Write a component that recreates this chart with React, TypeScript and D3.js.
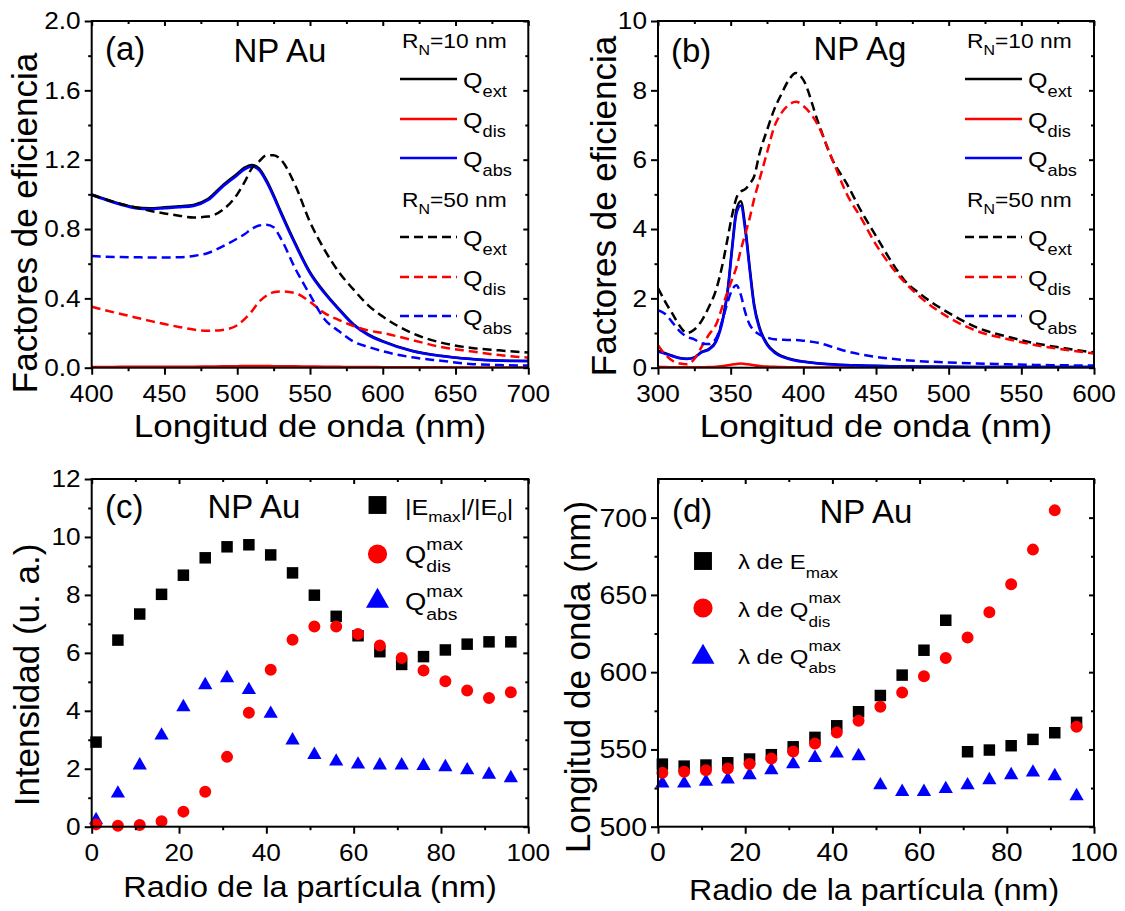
import React, { useEffect, useRef } from 'react';
import * as d3 from 'd3';

// ---------- (a) NP Au: eficiencias vs longitud de onda ----------
const lambdaAu = [400, 410, 420, 430, 440, 450, 460, 470, 480, 490, 500, 505, 510, 515, 520, 525, 530, 540, 550, 560, 570, 580, 590, 600, 620, 640, 660, 680, 700];
const auExt10 = [1.0, 0.971, 0.945, 0.925, 0.92, 0.925, 0.931, 0.939, 0.974, 1.052, 1.119, 1.154, 1.17, 1.15, 1.083, 0.996, 0.899, 0.716, 0.551, 0.435, 0.338, 0.25, 0.192, 0.153, 0.098, 0.069, 0.051, 0.041, 0.039];
const auDis10 = [0.004, 0.004, 0.005, 0.005, 0.005, 0.005, 0.006, 0.006, 0.007, 0.008, 0.009, 0.01, 0.01, 0.01, 0.01, 0.009, 0.009, 0.008, 0.007, 0.006, 0.005, 0.004, 0.004, 0.003, 0.002, 0.002, 0.001, 0.001, 0.001];
const auAbs10 = [0.996, 0.967, 0.94, 0.92, 0.915, 0.92, 0.925, 0.933, 0.967, 1.044, 1.11, 1.144, 1.16, 1.14, 1.073, 0.987, 0.89, 0.708, 0.544, 0.429, 0.333, 0.246, 0.188, 0.15, 0.096, 0.067, 0.05, 0.04, 0.038];
const auExt50 = [0.996, 0.97, 0.945, 0.925, 0.905, 0.89, 0.877, 0.867, 0.872, 0.91, 1.0, 1.07, 1.15, 1.19, 1.225, 1.225, 1.2, 1.05, 0.84, 0.68, 0.55, 0.45, 0.36, 0.295, 0.2, 0.145, 0.115, 0.1, 0.087];
const auDis50 = [0.352, 0.33, 0.31, 0.29, 0.27, 0.252, 0.235, 0.22, 0.213, 0.218, 0.245, 0.28, 0.325, 0.38, 0.415, 0.435, 0.44, 0.43, 0.38, 0.315, 0.275, 0.24, 0.215, 0.2, 0.16, 0.12, 0.095, 0.073, 0.058];
const auAbs50 = [0.644, 0.64, 0.638, 0.637, 0.636, 0.636, 0.637, 0.645, 0.662, 0.7, 0.745, 0.77, 0.8, 0.82, 0.825, 0.81, 0.745, 0.57, 0.42, 0.28, 0.21, 0.15, 0.12, 0.095, 0.06, 0.04, 0.022, 0.015, 0.012];

// ---------- (b) NP Ag ----------
const lambdaAg = [300, 305, 310, 315, 320, 325, 330, 335, 340, 345, 348, 351, 354, 357, 360, 363, 366, 370, 375, 380, 385, 390, 395, 400, 410, 420, 430, 440, 450, 460, 470, 480, 500, 520, 540, 560, 580, 600];
const agExt10 = [0.49, 0.42, 0.345, 0.28, 0.26, 0.3, 0.455, 0.54, 0.78, 1.5, 2.27, 3.49, 4.56, 4.8, 4.08, 2.94, 1.87, 1.15, 0.695, 0.465, 0.34, 0.265, 0.212, 0.18, 0.128, 0.096, 0.075, 0.064, 0.053, 0.043, 0.037, 0.032, 0.026, 0.021, 0.021, 0.021, 0.021, 0.021];
const agDis10 = [0.03, 0.02, 0.015, 0.01, 0.01, 0.01, 0.015, 0.02, 0.03, 0.05, 0.07, 0.09, 0.11, 0.12, 0.11, 0.09, 0.07, 0.05, 0.035, 0.025, 0.02, 0.015, 0.012, 0.01, 0.008, 0.006, 0.005, 0.004, 0.003, 0.003, 0.002, 0.002, 0.001, 0.001, 0.001, 0.001, 0.001, 0.001];
const agAbs10 = [0.46, 0.4, 0.33, 0.27, 0.25, 0.29, 0.44, 0.52, 0.75, 1.45, 2.2, 3.4, 4.45, 4.68, 3.97, 2.85, 1.8, 1.1, 0.66, 0.44, 0.32, 0.25, 0.2, 0.17, 0.12, 0.09, 0.07, 0.06, 0.05, 0.04, 0.035, 0.03, 0.025, 0.02, 0.02, 0.02, 0.02, 0.02];
const agExt50 = [2.3, 1.9, 1.55, 1.2, 1.0, 1.1, 1.35, 1.75, 2.25, 3.1, 3.75, 4.4, 4.9, 5.08, 5.15, 5.3, 5.5, 6.2, 6.85, 7.45, 7.9, 8.3, 8.5, 8.3, 7.1, 6.0, 5.3, 4.5, 3.8, 3.1, 2.5, 2.14, 1.58, 1.15, 0.9, 0.7, 0.56, 0.44];
const agDis50 = [0.65, 0.38, 0.2, 0.12, 0.1, 0.25, 0.6, 0.95, 1.25, 1.85, 2.2, 2.55, 2.9, 3.4, 3.85, 4.3, 4.84, 5.45, 6.2, 6.95, 7.35, 7.58, 7.67, 7.55, 7.0, 6.0, 5.0, 4.3, 3.55, 2.95, 2.45, 2.05, 1.45, 1.05, 0.83, 0.65, 0.52, 0.41];
const agAbs50 = [1.66, 1.55, 1.3, 1.05, 0.89, 0.82, 0.7, 0.68, 0.85, 1.47, 1.9, 2.25, 2.38, 2.1, 1.6, 1.25, 1.08, 0.95, 0.87, 0.82, 0.81, 0.8, 0.8, 0.78, 0.72, 0.6, 0.47, 0.38, 0.31, 0.26, 0.22, 0.19, 0.15, 0.12, 0.1, 0.08, 0.07, 0.06];

// ---------- (c), (d) NP Au vs radio ----------
const radio = [1, 6, 11, 16, 21, 26, 31, 36, 41, 46, 51, 56, 61, 66, 71, 76, 81, 86, 91, 96];
const eRatio = [2.92, 6.44, 7.34, 8.02, 8.68, 9.28, 9.66, 9.73, 9.38, 8.76, 7.99, 7.26, 6.59, 6.04, 5.6, 5.87, 6.1, 6.3, 6.38, 6.38];
const qDisMax = [0.08, 0.03, 0.06, 0.19, 0.52, 1.21, 2.41, 3.93, 5.42, 6.45, 6.91, 6.91, 6.65, 6.25, 5.82, 5.39, 5.02, 4.7, 4.44, 4.64];
const qAbsMax = [0.23, 1.15, 2.12, 3.15, 4.13, 4.89, 5.13, 4.72, 3.9, 2.98, 2.48, 2.25, 2.15, 2.12, 2.12, 2.1, 2.06, 1.95, 1.8, 1.68];
const lamEmax = [540.5, 539.2, 539.9, 541.4, 543.8, 546.6, 551.7, 557.8, 565.3, 574.4, 584.9, 598.1, 614.2, 633.6, 548.5, 549.6, 552.4, 556.5, 560.8, 567.5];
const lamDis = [534.9, 535.6, 536.6, 537.7, 540.5, 544.2, 548.7, 553.9, 561, 568.5, 577.6, 586.9, 597.4, 609.1, 622.4, 638.8, 656.9, 679.3, 704.7, 564.7];
const lamAbs = [528, 528, 529.1, 530.6, 533.4, 536.6, 540.5, 544.6, 547.4, 545.7, 526.9, 522.6, 522.6, 524.4, 526.9, 530.2, 533.4, 535.1, 532.8, 519.8];

// ticks
const xTicksA = [400, 450, 500, 550, 600, 650, 700];
const xMinorA = [425, 475, 525, 575, 625, 675];
const yTicksA = [0, 0.4, 0.8, 1.2, 1.6, 2.0];
const yMinorA = [0.2, 0.6, 1.0, 1.4, 1.8];
const xTicksB = [300, 350, 400, 450, 500, 550, 600];
const xMinorB = [325, 375, 425, 475, 525, 575];
const yTicksB = [0, 2, 4, 6, 8, 10];
const yMinorB = [1, 3, 5, 7, 9];
const xTicksR = [0, 20, 40, 60, 80, 100];
const xMinorR = [10, 30, 50, 70, 90];
const yTicksC = [0, 2, 4, 6, 8, 10, 12];
const yMinorC = [1, 3, 5, 7, 9, 11];
const yTicksD = [500, 550, 600, 650, 700];
const yMinorD = [525, 575, 625, 675];

const FONT = '"Liberation Sans", Arial, Helvetica, sans-serif';
const SX = 1.14;
const BLACK = '#000000';
const RED = '#ff0000';
const BLUE = '#0000ff';

function addText(g: any, x: number, y: number, str: string, size: number, anchor = 'start', sx = SX) {
  return g.append('text')
    .attr('transform', `translate(${x},${y}) scale(${sx},1)`)
    .attr('text-anchor', anchor)
    .style('font-family', FONT)
    .style('font-size', `${size}px`)
    .style('white-space', 'pre')
    .attr('fill', BLACK)
    .text(str);
}

// parts: [text, size, baseline offset]
function addRich(g: any, x: number, y: number, parts: [string, number, number][], sx = SX) {
  const t = g.append('text')
    .attr('transform', `translate(${x},${y}) scale(${sx},1)`)
    .style('font-family', FONT)
    .style('white-space', 'pre')
    .attr('fill', BLACK);
  let prev = 0;
  parts.forEach(([s, size, off]) => {
    t.append('tspan').attr('dy', off - prev).style('font-size', `${size}px`).text(s);
    prev = off;
  });
  return t;
}

// main text followed by stacked superscript / subscript
function addStack(g: any, x: number, y: number, main: string, sup: string, sub: string, size: number, small: number, supOff: number, subOff: number) {
  const t = addText(g, x, y, main, size);
  const w = (t.node() as SVGTextElement).getComputedTextLength() * SX;
  addText(g, x + w, y + supOff, sup, small);
  addText(g, x + w, y + subOff, sub, small);
}

function drawFrame(g: any, x: any, y: any, c: any) {
  const [xl, xr] = x.range();
  const [yb, yt] = y.range();
  const clean = (s: any) => {
    s.select('.domain').remove();
    s.selectAll('text').remove();
    s.selectAll('line').attr('stroke', BLACK).attr('stroke-width', 2);
  };
  const mk = (axis: any, tr: string) => g.append('g').attr('transform', tr).call(axis).call(clean);
  mk(d3.axisBottom(x).tickValues(c.xMajor).tickSize(7), `translate(0,${yb})`);
  mk(d3.axisBottom(x).tickValues(c.xMinor).tickSize(3.5), `translate(0,${yb})`);
  mk(d3.axisTop(x).tickValues(c.xMajor).tickSize(-5), `translate(0,${yt})`);
  mk(d3.axisTop(x).tickValues(c.xMinor).tickSize(-3), `translate(0,${yt})`);
  mk(d3.axisLeft(y).tickValues(c.yMajor).tickSize(7), `translate(${xl},0)`);
  mk(d3.axisLeft(y).tickValues(c.yMinor).tickSize(3.5), `translate(${xl},0)`);
  mk(d3.axisRight(y).tickValues(c.yMajor).tickSize(-5), `translate(${xr},0)`);
  mk(d3.axisRight(y).tickValues(c.yMinor).tickSize(-3), `translate(${xr},0)`);

  g.append('rect')
    .attr('x', xl).attr('y', yt).attr('width', xr - xl).attr('height', yb - yt)
    .attr('fill', 'none').attr('stroke', BLACK).attr('stroke-width', 2);

  c.xMajor.forEach((v: number) => addText(g, x(v), yb + 34, c.xFmt(v), c.fs, 'middle'));
  c.yMajor.forEach((v: number) => addText(g, xl - 11, y(v) + 0.36 * c.fs, c.yFmt(v), c.fs, 'end'));
}

function yTitle(g: any, x: number, y: number, str: string, size: number) {
  g.append('text')
    .attr('transform', `translate(${x},${y}) rotate(-90)`)
    .attr('text-anchor', 'middle')
    .style('font-family', FONT)
    .style('font-size', `${size}px`)
    .attr('fill', BLACK)
    .text(str);
}

function spectrumPanel(svg: any, id: string, box: number[], xDom: [number, number], yDom: [number, number], ticks: any, xs: number[], series: any[], legX: number) {
  const [l, r, t, b] = box;
  const x = d3.scaleLinear().domain(xDom).range([l, r]);
  const y = d3.scaleLinear().domain(yDom).range([b, t]);
  const g = svg.append('g');

  g.append('clipPath').attr('id', id).append('rect').attr('x', l).attr('y', t).attr('width', r - l).attr('height', b - t);
  const plot = g.append('g').attr('clip-path', `url(#${id})`);
  const line = d3.line<number>().x((_, i) => x(xs[i])).y(d => y(d)).curve(d3.curveMonotoneX);
  series.forEach(s => {
    plot.append('path').attr('d', line(s.values)).attr('fill', 'none')
      .attr('stroke', s.color).attr('stroke-width', 2.5)
      .attr('stroke-dasharray', s.dash ? '9,5' : null);
  });

  drawFrame(g, x, y, { ...ticks, fs: 23 });

  // legend
  const rowsY = [79, 119, 158, 237, 277, 316];
  addRich(g, legX + 2, 48, [['R', 20, 0], ['N', 14, 7], ['=10 nm', 20, 0]]);
  addRich(g, legX + 2, 207, [['R', 20, 0], ['N', 14, 7], ['=50 nm', 20, 0]]);
  series.forEach((s, i) => {
    const ly = rowsY[i];
    g.append('line').attr('x1', legX).attr('x2', legX + 57).attr('y1', ly).attr('y2', ly)
      .attr('stroke', s.color).attr('stroke-width', 2.5)
      .attr('stroke-dasharray', s.dash ? '9,5' : null);
    addRich(g, legX + 63, ly + 9, [['Q', 22, 0], [s.sub, 16, 9]]);
  });
  return g;
}

function markers(g: any, x: any, y: any, xs: number[], vals: number[], kind: string) {
  const type = kind === 'square' ? d3.symbolSquare : kind === 'circle' ? d3.symbolCircle : d3.symbolTriangle;
  const size = kind === 'square' ? 132 : kind === 'circle' ? 113 : 88;
  const color = kind === 'square' ? BLACK : kind === 'circle' ? RED : BLUE;
  g.selectAll(null).data(vals).join('path')
    .attr('d', d3.symbol().type(type).size(size)())
    .attr('transform', (d: number, i: number) => `translate(${x(xs[i])},${y(d)})`)
    .attr('fill', color);
}

function legendMarker(g: any, cx: number, cy: number, kind: string) {
  const type = kind === 'square' ? d3.symbolSquare : kind === 'circle' ? d3.symbolCircle : d3.symbolTriangle;
  const size = kind === 'square' ? 320 : kind === 'circle' ? 290 : 230;
  const color = kind === 'square' ? BLACK : kind === 'circle' ? RED : BLUE;
  g.append('path').attr('d', d3.symbol().type(type).size(size)())
    .attr('transform', `translate(${cx},${cy})`).attr('fill', color);
}

function App() {
  const ref = useRef<SVGSVGElement>(null);

  useEffect(() => {
    const svg = d3.select(ref.current);
    svg.selectAll('*').remove();

    // (a)
    const ga = spectrumPanel(svg, 'clipA', [91.7, 528.3, 21, 367.7], [400, 700], [0, 2],
      { xMajor: xTicksA, xMinor: xMinorA, yMajor: yTicksA, yMinor: yMinorA, xFmt: (v: number) => `${v}`, yFmt: d3.format('.1f') },
      lambdaAu,
      [
        { values: auExt10, color: BLACK, dash: false, sub: 'ext' },
        { values: auDis10, color: RED, dash: false, sub: 'dis' },
        { values: auAbs10, color: BLUE, dash: false, sub: 'abs' },
        { values: auExt50, color: BLACK, dash: true, sub: 'ext' },
        { values: auDis50, color: RED, dash: true, sub: 'dis' },
        { values: auAbs50, color: BLUE, dash: true, sub: 'abs' },
      ], 400);
    addText(ga, 105, 60, '(a)', 33, 'start', 1);
    addText(ga, 280, 62, 'NP Au', 33, 'middle', 1);
    addText(ga, 310, 437, 'Longitud de onda (nm)', 31, 'middle', 1.13);
    yTitle(ga, 37, 223, 'Factores de eficiencia', 35);

    // (b)
    const gb = spectrumPanel(svg, 'clipB', [658, 1094, 21, 367.7], [300, 600], [0, 10],
      { xMajor: xTicksB, xMinor: xMinorB, yMajor: yTicksB, yMinor: yMinorB, xFmt: (v: number) => `${v}`, yFmt: (v: number) => `${v}` },
      lambdaAg,
      [
        { values: agExt10, color: BLACK, dash: false, sub: 'ext' },
        { values: agDis10, color: RED, dash: false, sub: 'dis' },
        { values: agAbs10, color: BLUE, dash: false, sub: 'abs' },
        { values: agExt50, color: BLACK, dash: true, sub: 'ext' },
        { values: agDis50, color: RED, dash: true, sub: 'dis' },
        { values: agAbs50, color: BLUE, dash: true, sub: 'abs' },
      ], 965);
    addText(gb, 671, 62, '(b)', 33, 'start', 1);
    addText(gb, 860, 60, 'NP Ag', 33, 'middle', 1);
    addText(gb, 876, 437, 'Longitud de onda (nm)', 31, 'middle', 1.13);
    yTitle(gb, 616, 206, 'Factores de eficiencia', 35);

    // (c)
    const gc = svg.append('g');
    const xc = d3.scaleLinear().domain([0, 100]).range([91.7, 528.3]);
    const yc = d3.scaleLinear().domain([0, 12]).range([826.7, 479]);
    markers(gc, xc, yc, radio, eRatio, 'square');
    markers(gc, xc, yc, radio, qAbsMax, 'triangle');
    markers(gc, xc, yc, radio, qDisMax, 'circle');
    drawFrame(gc, xc, yc, { xMajor: xTicksR, xMinor: xMinorR, yMajor: yTicksC, yMinor: yMinorC, xFmt: (v: number) => `${v}`, yFmt: (v: number) => `${v}`, fs: 23 });
    addText(gc, 105, 518, '(c)', 33, 'start', 1);
    addText(gc, 254, 518, 'NP Au', 33, 'middle', 1);
    addText(gc, 310, 897, 'Radio de la partícula (nm)', 29, 'middle', 1.12);
    yTitle(gc, 39, 675, 'Intensidad (u. a.)', 35);
    legendMarker(gc, 377.5, 505, 'square');
    legendMarker(gc, 377.5, 554, 'circle');
    legendMarker(gc, 377.5, 601, 'triangle');
    addRich(gc, 405, 515, [['|E', 22, 0], ['max', 15, 7], ['|/|E', 22, 0], ['0', 15, 7], ['|', 22, 0]]);
    addStack(gc, 405, 563, 'Q', 'max', 'dis', 24, 17, -13, 9);
    addStack(gc, 405, 610, 'Q', 'max', 'abs', 24, 17, -13, 10);

    // (d)
    const gd = svg.append('g');
    const xd = d3.scaleLinear().domain([0, 100]).range([658, 1094]);
    const yd = d3.scaleLinear().domain([500, 725]).range([826.7, 479]);
    markers(gd, xd, yd, radio, lamEmax, 'square');
    markers(gd, xd, yd, radio, lamAbs, 'triangle');
    markers(gd, xd, yd, radio, lamDis, 'circle');
    drawFrame(gd, xd, yd, { xMajor: xTicksR, xMinor: xMinorR, yMajor: yTicksD, yMinor: yMinorD, xFmt: (v: number) => `${v}`, yFmt: (v: number) => `${v}`, fs: 25 });
    addText(gd, 672, 522, '(d)', 33, 'start', 1);
    addText(gd, 866, 523, 'NP Au', 33, 'middle', 1);
    addText(gd, 874, 900, 'Radio de la partícula (nm)', 29, 'middle', 1.11);
    yTitle(gd, 590, 677, 'Longitud de onda (nm)', 35);
    legendMarker(gd, 703, 561, 'square');
    legendMarker(gd, 703, 608, 'circle');
    legendMarker(gd, 703, 657, 'triangle');
    addRich(gd, 738, 569, [['λ de E', 21, 0], ['max', 15, 9]]);
    addStack(gd, 738, 617, 'λ de Q', 'max', 'dis', 21, 15, -14, 10);
    addStack(gd, 738, 664, 'λ de Q', 'max', 'abs', 21, 15, -13, 9);
  }, []);

  return (
    <svg ref={ref} width={1125} height={911}
      style={{ position: 'absolute', left: 0, top: 0, background: '#ffffff' }} />
  );
}

export default App;
